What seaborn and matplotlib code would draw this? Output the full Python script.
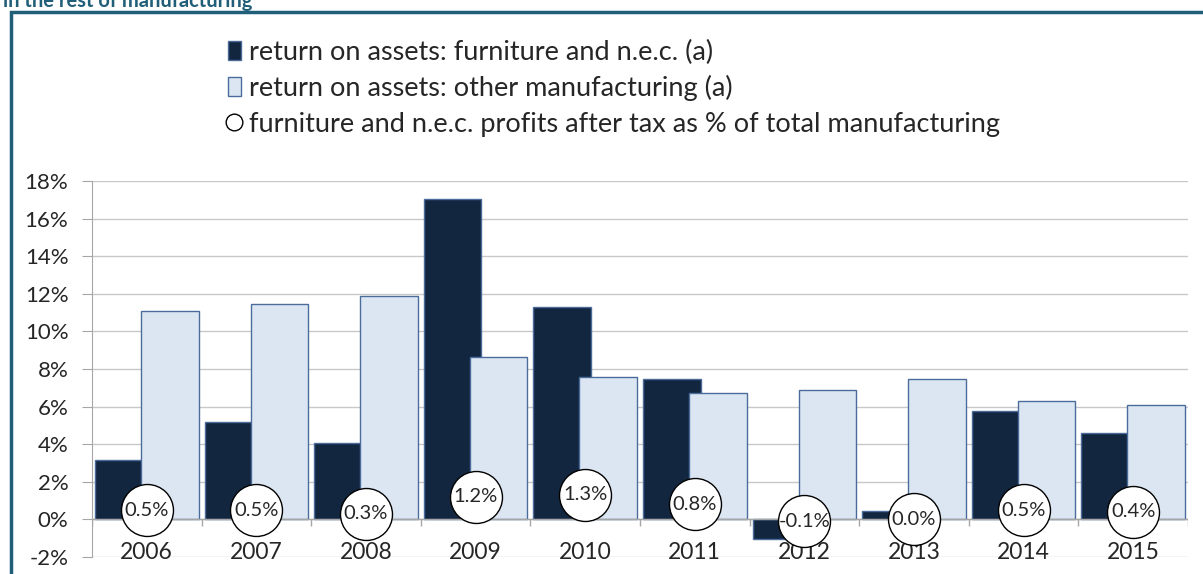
import numpy as np
import pandas as pd
import seaborn as sns
import matplotlib.pyplot as plt
from matplotlib.patches import Patch, Rectangle
from matplotlib.lines import Line2D

# data (percent)
years = [2006, 2007, 2008, 2009, 2010, 2011, 2012, 2013, 2014, 2015]
roa_furniture = [3.15, 5.2, 4.05, 17.05, 11.3, 7.45, -1.05, 0.45, 5.75, 4.6]
roa_other = [11.1, 11.45, 11.9, 8.65, 7.55, 6.7, 6.9, 7.45, 6.3, 6.1]
profit_share = [0.5, 0.5, 0.3, 1.2, 1.3, 0.8, -0.1, 0.0, 0.5, 0.4]

lab_furn = "return on assets: furniture and n.e.c. (a)"
lab_other = "return on assets: other manufacturing (a)"
lab_share = "furniture and n.e.c. profits after tax as % of total manufacturing"

dark = "#13263F"
light = "#DCE6F2"
edge = "#4A6C9B"
teal = "#215E78"
grid_c = "#C8C8C8"
axis_c = "#A6A6A6"

sns.set_style("white")
plt.rcParams['font.family'] = ['Lato', 'DejaVu Sans']

df = pd.DataFrame({
    "year": years * 2,
    "series": [lab_furn] * len(years) + [lab_other] * len(years),
    "value": roa_furniture + roa_other,
})

fig = plt.figure(figsize=(12.03, 5.74), dpi=100)
ax = fig.add_axes([92 / 1203, 17 / 574, 1096 / 1203, 376 / 574])

sns.barplot(data=df, x="year", y="value", hue="series",
            hue_order=[lab_furn, lab_other], palette=[dark, light],
            width=0.84, saturation=1, edgecolor=edge, linewidth=1,
            legend=False, ax=ax, zorder=2)

# widen bars so they overlap like the original
for p in ax.patches:
    cx = p.get_x() + p.get_width() / 2
    p.set_width(0.525)
    p.set_x(cx - 0.2625)

pos = np.arange(len(years))
# year labels sit low, across the -2% gridline
for i, y in enumerate(years):
    ax.text(i, -1.76, str(y), ha="center", va="center", fontsize=16.5, zorder=4)

ax.scatter(pos, profit_share, s=1400, facecolor="white",
           edgecolor="black", linewidth=1, zorder=5)
for i, v in enumerate(profit_share):
    ax.text(i, v, f"{v:.1f}%", ha="center", va="center", fontsize=14.5, zorder=6)

ax.set_xlim(-0.5, len(years) - 0.5)
ax.set_ylim(-2, 18)
ax.set_yticks(range(-2, 19, 2))
ax.set_yticklabels([f"{t}%" for t in range(-2, 19, 2)], fontsize=16)
ax.set_xticks([])
ax.set_xlabel("")
ax.set_ylabel("")
ax.yaxis.grid(True, color=grid_c, linewidth=1)
ax.set_axisbelow(True)
ax.axhline(0, color=axis_c, linewidth=1, zorder=3)
ax.vlines(np.arange(-0.5, len(years)), -0.35, 0, color=axis_c, linewidth=1, zorder=3)
for s in ["top", "right", "bottom"]:
    ax.spines[s].set_visible(False)
ax.spines["left"].set_color(axis_c)
ax.tick_params(axis="y", length=7, color=axis_c, pad=10, left=True)

handles = [
    Patch(facecolor=dark, edgecolor=edge, label=lab_furn),
    Patch(facecolor=light, edgecolor=edge, label=lab_other),
    Line2D([], [], marker="o", linestyle="none", markerfacecolor="white",
           markeredgecolor="black", markersize=12, label=lab_share),
]
fig.legend(handles=handles, loc="upper left", bbox_to_anchor=(214 / 1203, 1 - 26 / 574),
           frameon=False, fontsize=19.5, handlelength=0.5, handleheight=0.7,
           handletextpad=0.3, labelspacing=0.39, borderpad=0)

# outer frame and cropped heading
fig.add_artist(Rectangle((11 / 1203, -0.1), 1.2, 1 - 11.5 / 574 + 0.1,
                         transform=fig.transFigure, fill=False,
                         edgecolor=teal, linewidth=2.5))
fig.text(3 / 1203, 1 - 7 / 574, "in the rest of manufacturing", color=teal,
         fontweight="bold", fontsize=14.5, va="baseline", ha="left")

fig.savefig("out.png", dpi=100)
